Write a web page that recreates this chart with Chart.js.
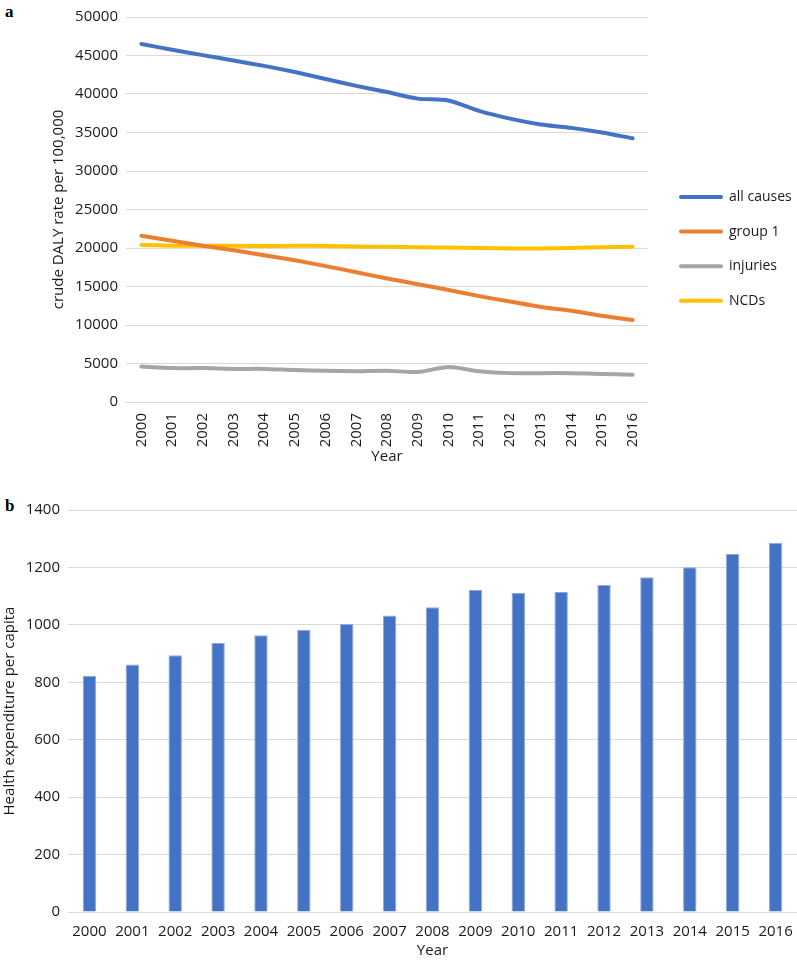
<!DOCTYPE html>
<html>
<head>
<meta charset="utf-8">
<script src="https://cdn.jsdelivr.net/npm/chart.js@4/dist/chart.umd.min.js"></script>
<style>
  body { margin: 0; background: #fff; width: 797px; height: 962px; position: relative; overflow: hidden; }
  .panel { position: absolute; font-family: "Liberation Serif", serif; font-weight: bold; font-size: 17px; line-height: 17px; color: #000; }
  canvas { position: absolute; left: 0; }
</style>
</head>
<body>
<div class="panel" style="left:5px; top:3px;">a</div>
<div class="panel" style="left:5px; top:497px;">b</div>
<canvas id="dalyChart" width="797" height="470" style="top:0;"></canvas>
<canvas id="spendChart" width="797" height="482" style="top:480px;"></canvas>
<script>
const years = ['2000', '2001', '2002', '2003', '2004', '2005', '2006', '2007', '2008',
               '2009', '2010', '2011', '2012', '2013', '2014', '2015', '2016'];

// crude DALY rate per 100,000
const allCauses = [46500, 45750, 45050, 44350, 43650, 42850, 41950, 41050, 40250,
                   39400, 39150, 37800, 36800, 36050, 35600, 35000, 34250];
const group1 = [21600, 20950, 20300, 19700, 19050, 18400, 17650, 16850, 16050,
                15300, 14550, 13750, 13050, 12350, 11850, 11200, 10650];
const injuries = [4600, 4400, 4400, 4300, 4300, 4150, 4050, 4000, 4050,
                  3900, 4550, 4000, 3750, 3750, 3750, 3650, 3550];
const ncds = [20400, 20300, 20300, 20300, 20250, 20300, 20250, 20200, 20150,
              20100, 20050, 20000, 19950, 19950, 20000, 20100, 20150];

// health expenditure per capita
const healthSpend = [823, 862, 894, 937, 964, 982, 1003, 1033, 1061,
                     1121, 1111, 1114, 1139, 1166, 1201, 1247, 1286];

const FONT = '"Open Sans", "Noto Sans", sans-serif';
const TEXT = '#1a1a1a';
const GRID = '#d9d9d9';

// legend drawn to the right of the plot, like the Excel original
const sideLegend = {
    id: 'sideLegend',
    afterDraw(chart) {
        const ctx = chart.ctx;
        const x0 = chart.chartArea.right + 33;
        ctx.save();
        ctx.font = '14px ' + FONT;
        ctx.textBaseline = 'middle';
        chart.data.datasets.forEach((ds, i) => {
            const y = 197 + i * 34.6;
            ctx.strokeStyle = ds.borderColor;
            ctx.lineWidth = 4;
            ctx.lineCap = 'round';
            ctx.beginPath();
            ctx.moveTo(x0, y);
            ctx.lineTo(x0 + 40, y);
            ctx.stroke();
            ctx.fillStyle = TEXT;
            ctx.fillText(ds.label, x0 + 48, y);
        });
        ctx.restore();
    }
};

function lineSet(label, data, color) {
    return {
        label: label,
        data: data,
        borderColor: color,
        backgroundColor: color,
        borderWidth: 4,
        pointRadius: 0,
        borderCapStyle: 'round',
        borderJoinStyle: 'round',
        tension: 0.25,
        fill: false
    };
}

const plainNumber = (value) => String(value);

new Chart(document.getElementById('dalyChart'), {
    type: 'line',
    data: {
        labels: years,
        datasets: [
            lineSet('all causes', allCauses, '#4472C4'),
            lineSet('group 1', group1, '#ED7D31'),
            lineSet('injuries', injuries, '#A5A5A5'),
            lineSet('NCDs', ncds, '#FFC000')
        ]
    },
    options: {
        responsive: false,
        devicePixelRatio: 1,
        animation: false,
        layout: { padding: { top: 13, left: 0, right: 149, bottom: 0 } },
        plugins: { legend: { display: false }, tooltip: { enabled: false } },
        scales: {
            x: {
                offset: true,
                grid: { display: false },
                border: { display: false },
                ticks: { color: TEXT, font: { family: FONT, size: 15 }, maxRotation: 90, minRotation: 90, padding: 3 },
                title: { display: true, text: 'Year', color: TEXT, font: { family: FONT, size: 15 }, padding: { top: 0, bottom: 4 } },
                afterFit(scale) { scale.height = 68; }
            },
            y: {
                min: 0,
                max: 50000,
                ticks: { stepSize: 5000, color: TEXT, font: { family: FONT, size: 15 }, padding: 8, callback: plainNumber },
                grid: { color: GRID, lineWidth: 1, drawTicks: false },
                border: { display: false },
                title: { display: true, text: 'crude DALY rate per 100,000', color: TEXT, font: { family: FONT, size: 15 }, padding: { top: 50, bottom: 0 } },
                afterFit(scale) { scale.width = 126; }
            }
        }
    },
    plugins: [sideLegend]
});

new Chart(document.getElementById('spendChart'), {
    type: 'bar',
    data: {
        labels: years,
        datasets: [{
            label: 'Health expenditure per capita',
            data: healthSpend,
            backgroundColor: '#4472C4',
            borderColor: '#8eaadb',
            borderWidth: 1,
            barPercentage: 0.313,
            categoryPercentage: 1
        }]
    },
    options: {
        responsive: false,
        devicePixelRatio: 1,
        animation: false,
        layout: { padding: { top: 30, left: 0, right: 0, bottom: 0 } },
        plugins: { legend: { display: false }, tooltip: { enabled: false } },
        scales: {
            x: {
                grid: { display: false },
                border: { display: false },
                ticks: { color: TEXT, font: { family: FONT, size: 15 }, maxRotation: 0, padding: 3 },
                title: { display: true, text: 'Year', color: TEXT, font: { family: FONT, size: 15 }, padding: { top: 0, bottom: 2 } },
                afterFit(scale) { scale.height = 50; }
            },
            y: {
                min: 0,
                max: 1400,
                ticks: { stepSize: 200, color: TEXT, font: { family: FONT, size: 15 }, padding: 8, callback: plainNumber },
                grid: { color: GRID, lineWidth: 1, drawTicks: false },
                border: { display: false },
                title: { display: true, text: 'Health expenditure per capita', color: TEXT, font: { family: FONT, size: 15 }, padding: { top: 1, bottom: 0 } },
                afterFit(scale) { scale.width = 68; }
            }
        }
    }
});
</script>
</body>
</html>
